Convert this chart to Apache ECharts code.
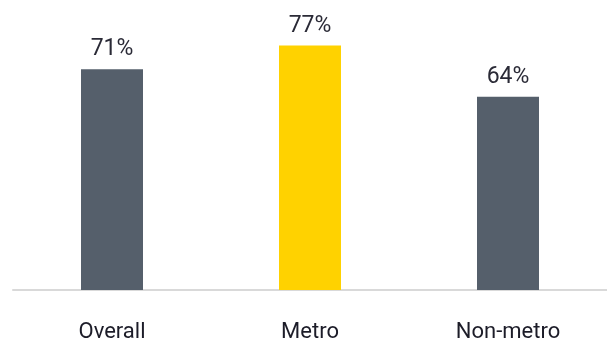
<!DOCTYPE html>
<html>
<head>
<meta charset="utf-8">
<script src="https://cdn.jsdelivr.net/npm/echarts@6/dist/echarts.min.js"></script>
<style>
  html, body { margin: 0; padding: 0; background: #ffffff; }
  #chart { width: 607px; height: 343px; }
</style>
</head>
<body>
<div id="chart"></div>
<script>
// Share of respondents by area
const categories = ['Overall', 'Metro', 'Non-metro'];
const shares = [71, 77, 64];
const barColors = ['#555f6b', '#ffd200', '#555f6b'];

const chart = echarts.init(document.getElementById('chart'), null, { renderer: 'canvas' });

chart.setOption({
  animation: false,
  grid: { left: 13, right: 0, top: 14, bottom: 49, containLabel: false },
  xAxis: {
    type: 'category',
    data: categories,
    axisLine: { show: true, lineStyle: { color: '#d9d9d9', width: 2 } },
    axisTick: { show: false },
    axisLabel: {
      margin: 31,
      color: '#1c1c28',
      fontFamily: 'Roboto',
      fontSize: 22
    }
  },
  yAxis: {
    type: 'value',
    min: 15,
    max: 85,
    show: false,
    splitLine: { show: false }
  },
  series: [{
    type: 'bar',
    barWidth: 62,
    data: shares.map((v, i) => ({ value: v, itemStyle: { color: barColors[i] } })),
    label: {
      show: true,
      position: 'top',
      distance: 8,
      formatter: '{c}%',
      color: '#2a2a36',
      fontFamily: 'Roboto',
      fontSize: 23
    }
  }]
});
</script>
</body>
</html>
